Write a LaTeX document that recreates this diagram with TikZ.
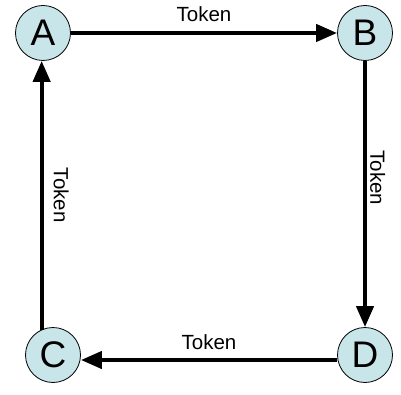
\documentclass[tikz,border=0pt]{standalone}
\usepackage{fontspec}
\setmainfont{Liberation Sans}
\usetikzlibrary{arrows.meta}
\definecolor{nodefill}{RGB}{200,230,234}
\begin{document}
\begin{tikzpicture}[x=1pt,y=-1pt,
  station/.style={circle,draw=black,line width=0.8pt,fill=nodefill,minimum size=55pt,inner sep=0pt,font=\fontsize{37}{37}\selectfont},
  link/.style={line width=4.2pt,-{Triangle[length=21pt,width=17pt]}},
  lbl/.style={font=\fontsize{20.5}{20.5}\selectfont,inner sep=0pt}]
\useasboundingbox (0,0) rectangle (401,395);
\node[station] (A) at (43,33) {A};
\node[station] (B) at (365,33) {B};
\node[station] (C) at (53,355) {C};
\node[station] (D) at (365,355) {D};
\draw[link] (A) -- (B) node[lbl,midway,above=9pt] {Token};
\draw[link] (B) -- (D) node[lbl,pos=0.44,right=3pt,rotate=-90,anchor=south] {Token};
\draw[link] ([yshift=-5pt]D.west) -- ([yshift=-5pt]C.east) node[lbl,midway,above=8pt] {Token};
\coordinate (cA) at (C.114);
\draw[link] (cA) -- (cA |- A.south) node[lbl,pos=0.5,right=10pt,rotate=-90,anchor=south] {Token};
\end{tikzpicture}
\end{document}
